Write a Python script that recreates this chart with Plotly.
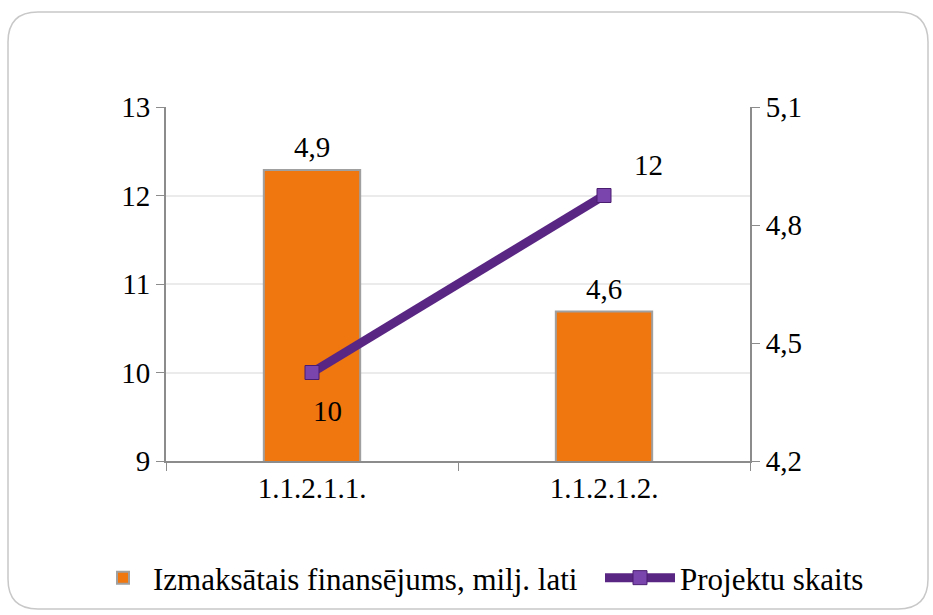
import plotly.graph_objects as go

categories = ["1.1.2.1.1.", "1.1.2.1.2."]
funding = [4.94, 4.58]          # Izmaksātais finansējums, milj. lati (right axis)
projects = [10, 12]             # Projektu skaits (left axis)

FONT = "Times New Roman, Liberation Serif, serif"
FS = 29
LFS = 31

fig = go.Figure()

fig.add_trace(go.Bar(
    x=categories, y=funding, yaxis="y",
    name="Izmaksātais finansējums, milj. lati",
    marker=dict(color="#F0760F", line=dict(color="#A0A0A0", width=2)),
    width=0.33, legend="legend",
))

fig.add_trace(go.Scatter(
    x=categories, y=projects, yaxis="y2",
    name="Projektu skaits",
    mode="lines+markers",
    line=dict(color="#5A2683", width=9),
    marker=dict(symbol="square", size=14, color="#7A46AE",
                line=dict(color="#4A1D70", width=1)),
    cliponaxis=False, legend="legend2",
))

annotations = []
for c, v in zip(categories, funding):
    annotations.append(dict(x=c, y=v, xref="x", yref="y", yshift=23, showarrow=False,
                            text=f"{v:.1f}".replace(".", ","),
                            font=dict(family=FONT, size=FS, color="black")))
line_shifts = [(15, -38), (44, 31)]
for c, v, (dx, dy) in zip(categories, projects, line_shifts):
    annotations.append(dict(x=c, y=v, xref="x", yref="y2", xshift=dx, yshift=dy,
                            showarrow=False, text=str(v),
                            font=dict(family=FONT, size=FS, color="black")))

# rounded border
L, R, T, B = 8, 928, 12, 609
pl, pr, pt, pb = 166, 750, 107, 461
def px(x): return (x - pl) / (pr - pl)
def py(y): return (pb - y) / (pb - pt)
rad = 30
rx = rad / (pr - pl); ry = rad / (pb - pt)
x0, x1, y0, y1 = px(L), px(R), py(B), py(T)
path = (f"M {x0+rx},{y1} L {x1-rx},{y1} Q {x1},{y1} {x1},{y1-ry} "
        f"L {x1},{y0+ry} Q {x1},{y0} {x1-rx},{y0} L {x0+rx},{y0} "
        f"Q {x0},{y0} {x0},{y0+ry} L {x0},{y1-ry} Q {x0},{y1} {x0+rx},{y1} Z")

legend_common = dict(orientation="h", yanchor="middle", y=py(578),
                     xanchor="left", tracegroupgap=0, bgcolor="rgba(0,0,0,0)",
                     font=dict(family=FONT, size=LFS, color="black"))

fig.update_layout(
    width=933, height=615,
    margin=dict(l=166, r=183, t=107, b=154, autoexpand=False),
    paper_bgcolor="white", plot_bgcolor="white",
    separators=", ",
    font=dict(family=FONT, size=FS, color="black"),
    showlegend=True,
    legend=dict(x=px(93), itemwidth=50, **legend_common),
    legend2=dict(x=px(600), itemwidth=70, **legend_common),
    annotations=annotations,
    xaxis=dict(type="category", showline=True, linecolor="#8C8C8C", linewidth=2,
               ticks="outside", tickson="boundaries", ticklen=8, tickcolor="#8C8C8C",
               tickfont=dict(family=FONT, size=FS), showgrid=False),
    yaxis=dict(side="right", range=[4.2, 5.1], dtick=0.3, tick0=4.2,
               showline=True, linecolor="#8C8C8C", linewidth=2,
               ticks="outside", ticklen=8, tickcolor="#8C8C8C",
               tickformat=".1f", showgrid=False, zeroline=False,
               tickfont=dict(family=FONT, size=FS)),
    yaxis2=dict(side="left", overlaying="y", range=[9, 13], dtick=1,
                showline=True, linecolor="#8C8C8C", linewidth=2,
                ticks="outside", ticklen=8, tickcolor="#8C8C8C",
                showgrid=True, gridcolor="#EBEBEB", gridwidth=1.5, zeroline=False,
                tickfont=dict(family=FONT, size=FS)),
    shapes=[dict(type="path", path=path, xref="paper", yref="paper",
                 line=dict(color="#C8C8C8", width=1.5), layer="below")],
)

fig.write_html("out.html", config={"displayModeBar": False},
               post_script="document.body.style.margin='0px';")
